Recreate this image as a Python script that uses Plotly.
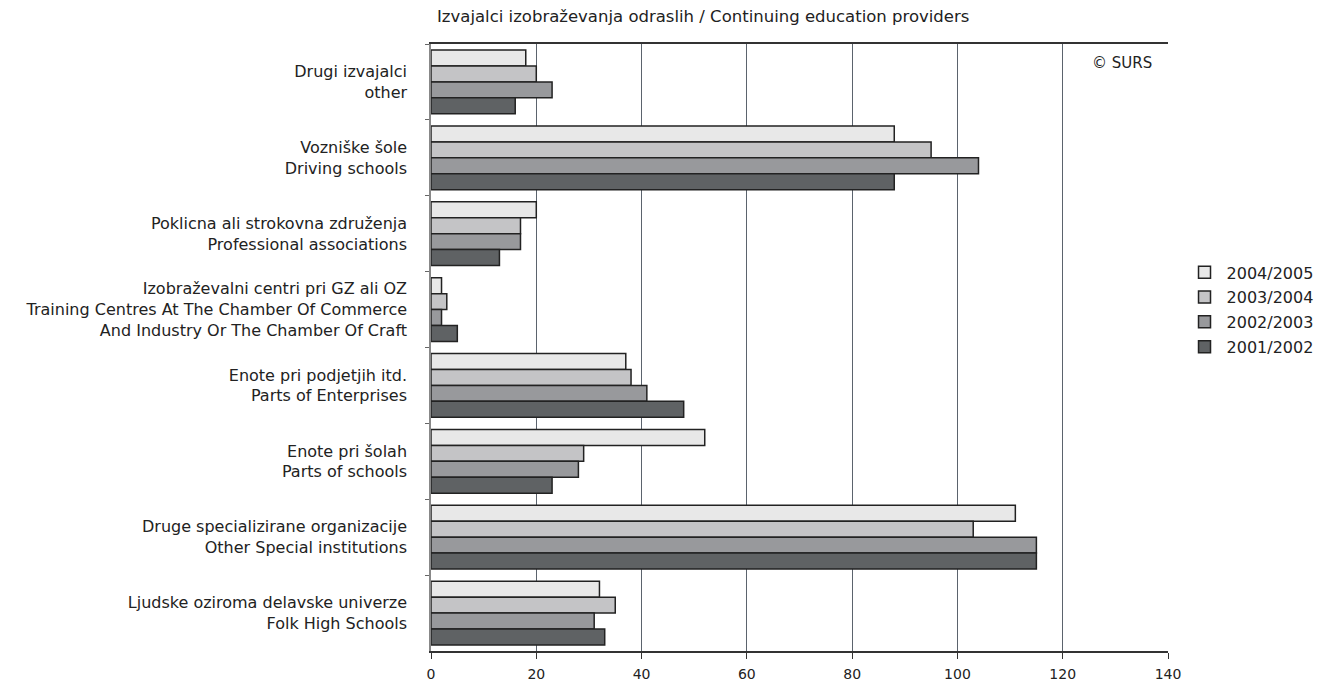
import plotly.graph_objects as go

categories = [
    "Drugi izvajalci<br>other",
    "Vozniške šole<br>Driving schools",
    "Poklicna ali strokovna združenja<br>Professional associations",
    "Izobraževalni centri pri GZ ali OZ<br>Training Centres At The Chamber Of Commerce<br>And Industry Or The Chamber Of Craft",
    "Enote pri podjetjih itd.<br>Parts of Enterprises",
    "Enote pri šolah<br>Parts of schools",
    "Druge specializirane organizacije<br>Other Special institutions",
    "Ljudske oziroma delavske univerze<br>Folk High Schools",
]

years = ["2004/2005", "2003/2004", "2002/2003", "2001/2002"]
v_2004 = [18, 88, 20, 2, 37, 52, 111, 32]
v_2003 = [20, 95, 17, 3, 38, 29, 103, 35]
v_2002 = [23, 104, 17, 2, 41, 28, 115, 31]
v_2001 = [16, 88, 13, 5, 48, 23, 115, 33]
values = [v_2004, v_2003, v_2002, v_2001]
colors = ["#e8e8e8", "#c4c4c6", "#98999c", "#5f6264"]

FONT = "DejaVu Sans, Liberation Sans, Arial, sans-serif"

fig = go.Figure()
for name, vals, col in zip(years, values, colors):
    fig.add_trace(go.Bar(
        y=categories, x=vals, name=name, orientation="h", legendgroup=name,
        marker=dict(color=col, line=dict(color="#222222", width=1.5)),
    ))

# page body has an 8px margin, so the figure is a bit smaller than the window
fig.update_layout(
    width=1320, height=678,
    margin=dict(l=423, r=160, t=36, b=35, autoexpand=False),
    paper_bgcolor="white", plot_bgcolor="white",
    barmode="group", bargap=0.16, bargroupgap=0,
    font=dict(family=FONT, size=14, color="#222222"),
    showlegend=True,
    legend=dict(x=1.0197, y=0.562, xanchor="left", yanchor="middle",
                font=dict(size=16), tracegroupgap=1, itemwidth=34),
)
fig.update_xaxes(
    range=[0, 140], dtick=20, showgrid=True, gridcolor="#5b636d", gridwidth=1,
    zeroline=False, showline=True, linecolor="#333333", linewidth=1.5, mirror=True,
    ticks="outside", ticklen=6, tickcolor="#333333", automargin=False,
    tickfont=dict(size=14), ticklabelstandoff=3,
)
fig.update_yaxes(
    autorange="reversed", showline=True, linecolor="#888888", linewidth=1.5,
    ticks="outside", tickson="boundaries", ticklen=4, tickcolor="#666666",
    ticklabelstandoff=19, automargin=False, tickfont=dict(size=16),
)
fig.add_annotation(
    text="Izvajalci izobraževanja odraslih / Continuing education providers",
    xref="paper", yref="paper", x=0.005, y=1, xanchor="left", yanchor="bottom",
    yshift=16, showarrow=False, font=dict(size=16.5),
)
fig.add_annotation(
    text="© SURS", xref="paper", yref="paper", x=1, y=1,
    xanchor="right", yanchor="top", xshift=-14, yshift=-8,
    showarrow=False, font=dict(size=15),
)

fig.write_html("out.html")
